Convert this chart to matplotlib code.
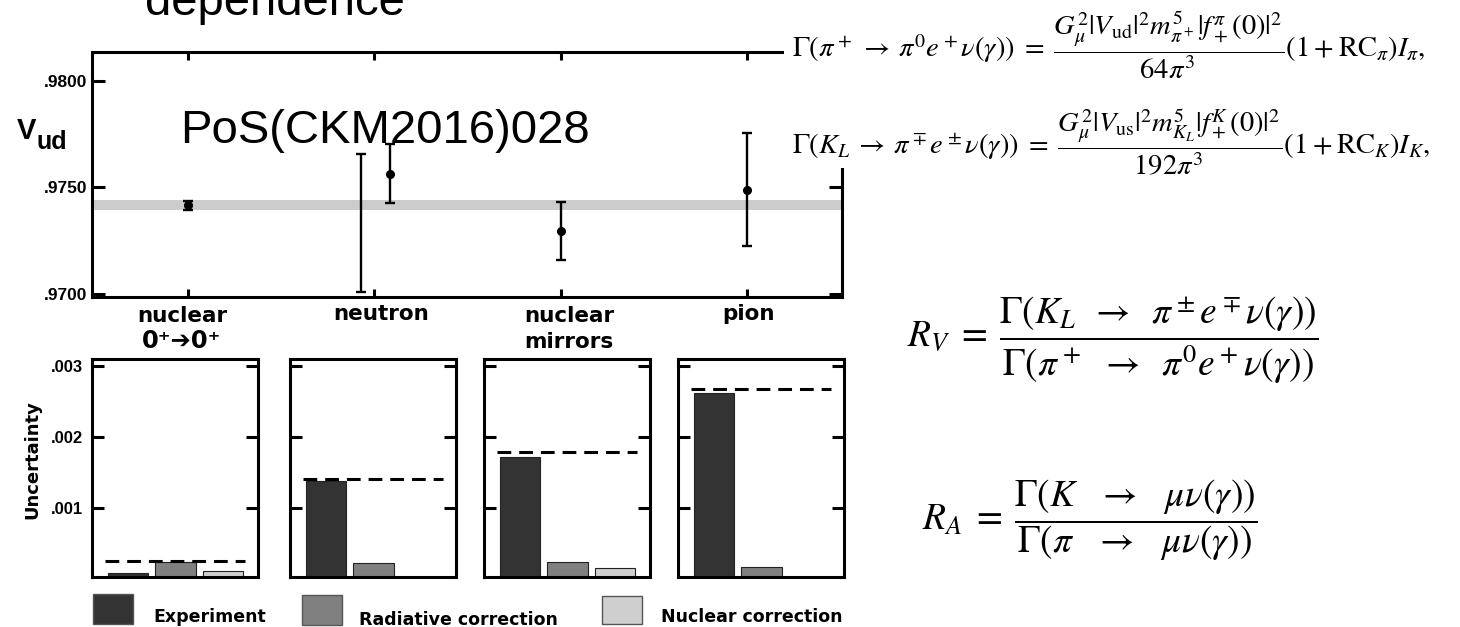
import numpy as np
import matplotlib
matplotlib.use("Agg")
import matplotlib.pyplot as plt
from matplotlib.patches import Rectangle

W, H = 1460, 627

# top panel: Vud from each method
categories = ["nuclear 0+0+", "neutron", "nuclear mirrors", "pion"]
vud_x = [0.0, 1.086, 2.0, 3.0]
vud_val = [0.97417, 0.97565, 0.97296, 0.97490]
vud_err = [0.00021, 0.00140, 0.00136, 0.00265]
# second neutron result, drawn without a marker
neutron_alt_x = 0.93
neutron_alt_val = 0.97333
neutron_alt_err = 0.00324
band_lo, band_hi = 0.97396, 0.97440

# bottom panels: uncertainty budget per method
experiment = [0.00008, 0.00137, 0.00172, 0.00262]
radiative = [0.00023, 0.00022, 0.00023, 0.00016]
nuclear = [0.00011, 0.0, 0.00015, 0.0]
total = [0.00025, 0.00140, 0.00178, 0.00268]

bar_colors = ["#333333", "#808080", "#cfcfcf"]
legend_labels = ["Experiment", "Radiative correction", "Nuclear correction"]

SANS = ["Liberation Sans", "DejaVu Sans"]
WIDE = ["DejaVu Sans"]


def fx(px):
    return px / W


def fy(py):
    return 1 - py / H


def box(l, t, r, b):
    return [fx(l), fy(b), fx(r) - fx(l), fy(t) - fy(b)]


plt.rcParams["mathtext.fontset"] = "stix"
fig = plt.figure(figsize=(W / 100, H / 100), dpi=100)

spine_w = 2.2

# ---- Vud panel
ax = fig.add_axes(box(92, 52, 842, 297))
ax.axhspan(band_lo, band_hi, color="#cccccc", lw=0, zorder=1)
ax.errorbar(vud_x, vud_val, yerr=vud_err, fmt="o", color="black", ms=5.5,
            elinewidth=1.7, capsize=3.5, capthick=1.7, zorder=3)
ax.errorbar([neutron_alt_x], [neutron_alt_val], yerr=[neutron_alt_err],
            fmt="none", ecolor="black", elinewidth=1.7, capsize=3.5,
            capthick=1.7, zorder=3)
ax.set_xlim(-0.515, 3.51)
ax.set_ylim(0.96986, 0.98136)
ax.set_xticks([0, 1, 2, 3])
ax.set_xticklabels([])
ax.set_yticks([0.970, 0.975, 0.980])
ax.set_yticklabels([".9700", ".9750", ".9800"], fontfamily=SANS,
                   fontweight="bold", fontsize=12.5)
ax.tick_params(axis="y", direction="in", left=True, right=True, length=9.5,
               width=spine_w, pad=3.6)
ax.tick_params(axis="x", direction="in", top=True, bottom=True, length=5.5,
               width=spine_w)
for s in ax.spines.values():
    s.set_linewidth(spine_w)

fig.text(fx(17), fy(139), "V", fontfamily=SANS, fontweight="bold",
         fontsize=21, va="baseline")
fig.text(fx(37), fy(149), "ud", fontfamily=SANS, fontweight="bold",
         fontsize=18, va="baseline")

# method names between the panels
lab = dict(fontfamily=WIDE, fontweight="bold", fontsize=15.5,
           ha="center", va="center")
fig.text(fx(182), fy(316), "nuclear", **lab)
fig.text(fx(182), fy(341), "0\u207a\u27940\u207a", **dict(lab, fontsize=17.5))
fig.text(fx(381), fy(314), "neutron", **lab)
fig.text(fx(569), fy(316), "nuclear", **lab)
fig.text(fx(569), fy(342), "mirrors", **lab)
fig.text(fx(748), fy(314), "pion", **lab)

# ---- uncertainty panels
lefts = [92, 290, 484, 678]
xpos = np.arange(3)
for i, l in enumerate(lefts):
    a = fig.add_axes(box(l, 359, l + 166, 577))
    vals = [experiment[i], radiative[i], nuclear[i]]
    for j in range(3):
        if vals[j] > 0:
            a.bar(xpos[j], vals[j], width=0.85, color=bar_colors[j],
                  edgecolor="#222222", linewidth=0.8, zorder=2)
    a.hlines(total[i], -0.5, 2.47, colors="black", linewidth=2.2,
             linestyles=(0, (4.5, 2.6)), zorder=3)
    a.set_xlim(-0.77, 2.75)
    a.set_ylim(0.00002, 0.0031)
    a.set_xticks([])
    a.set_yticks([0.001, 0.002, 0.003])
    if i == 0:
        a.set_yticklabels([".001", ".002", ".003"], fontfamily=SANS,
                          fontweight="bold", fontsize=12)
    else:
        a.set_yticklabels([])
    a.tick_params(axis="y", direction="in", left=True, right=True,
                  length=8.8, width=spine_w, pad=6.5)
    for s in a.spines.values():
        s.set_linewidth(spine_w)

fig.text(fx(32), fy(460), "Uncertainty", rotation=90, fontfamily=WIDE,
         fontweight="bold", fontsize=13, ha="center", va="center")

# legend
leg_boxes = [(93, 594, 133, 624), (302, 595, 342, 625), (602, 596, 642, 624)]
leg_text = [(153, 617), (359, 620), (661, 617)]
for k in range(3):
    l, t, r, b = leg_boxes[k]
    fig.add_artist(Rectangle((fx(l), fy(b)), fx(r) - fx(l), fy(t) - fy(b),
                             transform=fig.transFigure, facecolor=bar_colors[k],
                             edgecolor="#555555", linewidth=1.0))
    fig.text(fx(leg_text[k][0]), fy(leg_text[k][1]), legend_labels[k],
             fontfamily=WIDE, fontweight="bold", fontsize=12.5, va="center")

# slide texts
fig.text(fx(145), fy(15), "dependence", fontfamily=SANS, fontsize=34,
         va="baseline")
fig.text(fx(180), fy(143), "PoS(CKM2016)028", fontfamily=SANS, fontsize=34,
         va="baseline")

# formula area
fig.add_artist(Rectangle((fx(784), fy(168)), 1 - fx(784), fy(0) - fy(168),
                         transform=fig.transFigure, facecolor="white",
                         edgecolor="none", zorder=10))
eq1 = (r"$\Gamma(\pi^+ \:\rightarrow\: \pi^0 e^+ \nu(\gamma)) \;=\; "
       r"\dfrac{G_\mu^2 |V_{\mathrm{ud}}|^2 m_{\pi^+}^5 |f_+^\pi(0)|^2}{64\pi^3}"
       r"(1 \:+\: \mathrm{RC}_\pi) I_\pi,$")
eq2 = (r"$\Gamma(K_L \:\rightarrow\: \pi^\mp e^\pm \nu(\gamma)) \;=\; "
       r"\dfrac{G_\mu^2 |V_{\mathrm{us}}|^2 m_{K_L}^5 |f_+^K(0)|^2}{192\pi^3}"
       r"(1 \:+\: \mathrm{RC}_K) I_K,$")
fig.text(fx(792), fy(45), eq1, fontsize=20.5, va="center", zorder=11)
fig.text(fx(792), fy(142), eq2, fontsize=20.5, va="center", zorder=11)

rv = (r"$R_V \;=\; \dfrac{\Gamma(K_L \;\;\rightarrow\;\; \pi^\pm e^\mp \nu(\gamma))}"
      r"{\Gamma(\pi^+ \;\;\rightarrow\;\; \pi^0 e^+ \nu(\gamma))}$")
ra = (r"$R_A \;=\; \dfrac{\Gamma(K \;\;\;\rightarrow\;\;\; \mu\nu(\gamma))}"
      r"{\Gamma(\pi \;\;\;\rightarrow\;\;\; \mu\nu(\gamma))}$")
fig.text(fx(907), fy(340), rv, fontsize=27, va="center")
fig.text(fx(922), fy(520), ra, fontsize=27, va="center")

fig.savefig("out.png", dpi=100, facecolor="white")
